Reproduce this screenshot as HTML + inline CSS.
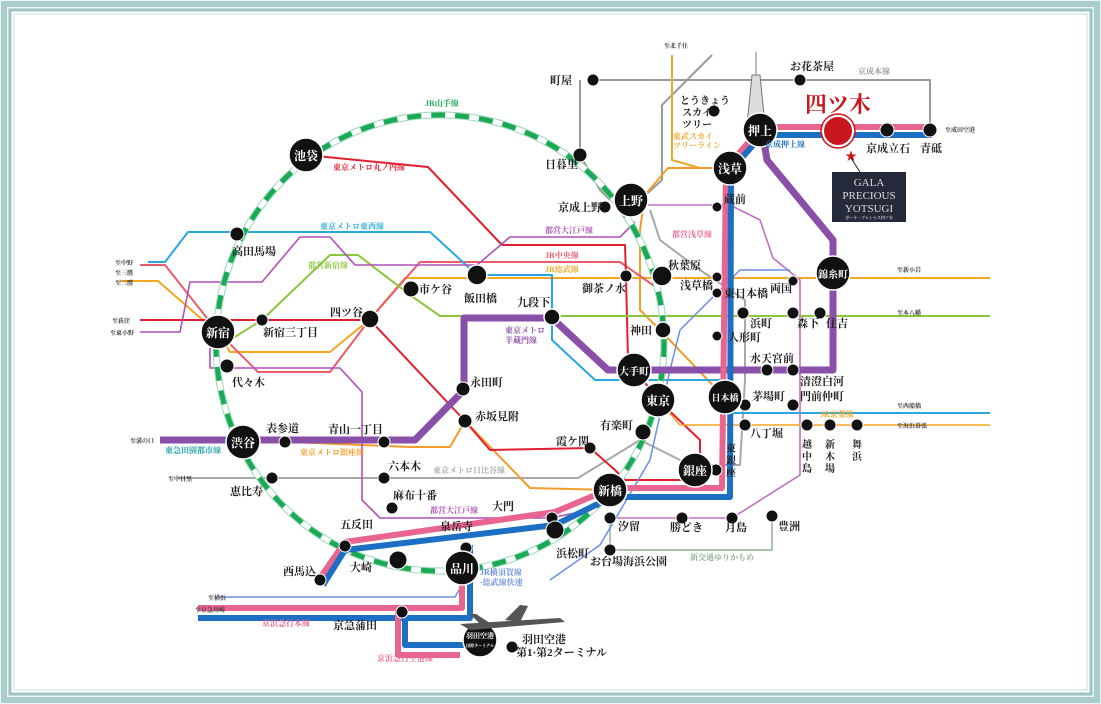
<!DOCTYPE html>
<html><head><meta charset="utf-8"><style>
html,body{margin:0;padding:0;background:#fff}
svg{display:block}
text{font-family:"Liberation Serif","Noto Serif CJK SC",serif;font-weight:bold}
.s{font-size:11px;fill:#222}
.t{font-size:6px;fill:#333}
.w{fill:#fff;font-size:12px;text-anchor:middle}
</style></head><body>
<svg width="1101" height="704" viewBox="0 0 1101 704" xmlns="http://www.w3.org/2000/svg">
<rect x="0" y="0" width="1101" height="704" fill="#eef4f4"/>
<rect x="4" y="4" width="1093" height="696" fill="none" stroke="#a9cccc" stroke-width="6"/>
<rect x="10" y="10" width="1081" height="684" fill="#fff" stroke="#9cc4c4" stroke-width="3"/>
<rect x="14" y="14" width="1073" height="676" fill="#fff" stroke="#c9dede" stroke-width="1"/>

<g fill="none" stroke-linejoin="round">
<!-- Keisei main grey -->
<polyline points="593,80 930,80 930,130" stroke="#9a9a9a" stroke-width="2"/>
<polyline points="580,80 580,155 600,190 610,200" stroke="#9a9a9a" stroke-width="2"/>
<polyline points="712,55 662,105 662,180 640,200" stroke="#9a9a9a" stroke-width="2"/>
<!-- Hibiya grey -->
<polyline points="178,478 380,478 578,478 640,440 690,465 740,465 745,380 745,300 700,270 660,240 650,210" stroke="#a8a8a8" stroke-width="2"/>
<!-- Tobu skytree orange -->
<polyline points="672,55 672,160 700,168" stroke="#f0a830" stroke-width="2"/>
<!-- Ginza orange -->
<polyline points="730,168 668,168 645,195 640,230 640,310 660,330 725,398" stroke="#f39c2a" stroke-width="2"/>
<polyline points="243,440 410,447 450,447 465,421" stroke="#f39c2a" stroke-width="2"/>
<polyline points="465,421 530,488 610,490 685,490 695,470" stroke="#f39c2a" stroke-width="2"/>
<!-- Sobu orange -->
<polyline points="120,281 158,281 205,322 218,332 230,352 330,352 370,319 405,278 990,278" stroke="#f5a623" stroke-width="2"/>
<!-- Chuo pink/red -->
<polyline points="140,265 165,265 218,332 258,372 330,372 370,319 420,262 620,262 660,290 665,330 658,400" stroke="#ec5b6a" stroke-width="2"/>
<!-- Marunouchi red -->
<polyline points="306,155 428,167 502,245 625,245 626,277 628,360 658,400 700,440 700,468 695,470" stroke="#e02030" stroke-width="2"/>
<polyline points="140,320 370,320 465,421 490,450 590,448 615,470 625,480 690,480" stroke="#e02030" stroke-width="2"/>
<!-- Tozai blue -->
<polyline points="148,262 165,262 188,232 250,232 430,232 477,275 552,275 552,340 595,380 720,380" stroke="#29a8e0" stroke-width="2"/>
<polyline points="720,413 990,413" stroke="#29a8e0" stroke-width="2"/>
<!-- Shinjuku line green -->
<polyline points="230,340 262,320 330,255 358,255 410,295 440,316 990,316" stroke="#8cc63f" stroke-width="2"/>
<!-- Oedo purple thin -->
<polyline points="140,332 180,332 190,282 262,282 300,237 330,237 355,265 477,265 510,237 620,237 635,222" stroke="#b050b8" stroke-width="1.6"/>
<polyline points="227,368 210,368 210,347 218,332" stroke="#b050b8" stroke-width="1.6"/>
<polyline points="227,368 340,368 362,392 362,500 380,518 550,518 590,510" stroke="#b050b8" stroke-width="1.6"/>
<polyline points="610,518 732,518 800,475 800,280 773,258 760,220 730,205 643,205" stroke="#c070c0" stroke-width="1.6"/>
<!-- Yurikamome -->
<polyline points="610,518 610,550 772,550 772,518" stroke="#8fb08f" stroke-width="1.5"/>
<!-- JR Yokosuka blue thin -->
<polyline points="790,270 740,270 680,330 670,370 650,460 600,545 550,580" stroke="#6b8ee0" stroke-width="1.5"/>
<polyline points="219,597 455,597 462,585" stroke="#6b8ee0" stroke-width="1.5"/>
<!-- Keiyo -->
<polyline points="658,400 680,425 990,425" stroke="#f5a623" stroke-width="1.5"/>

<!-- Yamanote -->
<ellipse cx="440" cy="343" rx="224" ry="228" stroke="#9ad8b8" stroke-width="7"/>
<ellipse cx="440" cy="343" rx="224" ry="228" stroke="#fff" stroke-width="5"/>
<ellipse cx="440" cy="343" rx="224" ry="228" stroke="#1aaa55" stroke-width="5" stroke-dasharray="14,10"/>

<!-- Hanzomon thick purple -->
<polyline points="160,440 243,440 415,440 464,390 464,318 552,318 608,370 833,370 833,240 767,160 762,130" stroke="#8a4fa8" stroke-width="7"/>
<!-- Asakusa pink/blue -->
<polyline points="925,127 762,127 733,160 726,170 722,488 612,488 555,512 345,542 320,578" stroke="#e8658f" stroke-width="6"/>
<polyline points="932,135 762,135 740,160 731,170 730,497 612,497 555,525 345,550 323,585" stroke="#1d6fc4" stroke-width="6"/>
<polyline points="466,545 462,560 462,608 198,608" stroke="#e8658f" stroke-width="6"/>
<polyline points="470,545 470,618 198,618" stroke="#1d6fc4" stroke-width="6"/>
<polyline points="398,608 398,655 460,655" stroke="#e8658f" stroke-width="6"/>
<polyline points="405,618 405,645 480,645" stroke="#1d6fc4" stroke-width="6"/>
</g>

<!-- Skytree -->
<g stroke="#777" fill="none" stroke-width="1">
<line x1="756" y1="52" x2="756" y2="75"/>
<polygon points="752,75 760,75 765,125 747,125" fill="#ddd"/>
</g>

<!-- small nodes -->
<g fill="#111" stroke="#fff" stroke-width="1">
<circle cx="593" cy="80" r="6"/><circle cx="800" cy="80" r="6"/><circle cx="580" cy="155" r="7"/><circle cx="605" cy="207" r="6"/>
<circle cx="714" cy="111" r="6"/><circle cx="887" cy="130" r="7"/><circle cx="930" cy="130" r="7"/>
<circle cx="237" cy="234" r="7"/><circle cx="262" cy="320" r="6"/><circle cx="227" cy="366" r="7"/><circle cx="411" cy="289" r="8"/>
<circle cx="626" cy="276" r="6"/><circle cx="717" cy="277" r="5"/><circle cx="717" cy="293" r="5"/><circle cx="717" cy="336" r="5"/>
<circle cx="717" cy="207" r="5"/><circle cx="793" cy="281" r="5"/><circle cx="743" cy="313" r="6"/><circle cx="793" cy="313" r="6"/><circle cx="820" cy="313" r="6"/>
<circle cx="767" cy="370" r="6"/><circle cx="793" cy="370" r="6"/><circle cx="745" cy="405" r="6"/><circle cx="793" cy="405" r="6"/>
<circle cx="745" cy="425" r="6"/><circle cx="807" cy="425" r="6"/><circle cx="830" cy="425" r="6"/><circle cx="857" cy="425" r="6"/>
<circle cx="463" cy="389" r="7"/><circle cx="465" cy="421" r="7"/><circle cx="643" cy="432" r="8"/><circle cx="590" cy="448" r="6"/>
<circle cx="716" cy="470" r="6"/><circle cx="285" cy="442" r="6"/><circle cx="384" cy="442" r="6"/><circle cx="384" cy="478" r="6"/>
<circle cx="272" cy="478" r="6"/><circle cx="392" cy="508" r="6"/><circle cx="552" cy="518" r="6"/><circle cx="610" cy="518" r="6"/>
<circle cx="682" cy="518" r="6"/><circle cx="732" cy="518" r="6"/><circle cx="772" cy="516" r="6"/><circle cx="610" cy="550" r="6"/>
<circle cx="345" cy="546" r="6"/><circle cx="466" cy="548" r="6"/><circle cx="320" cy="580" r="6"/><circle cx="398" cy="560" r="9"/>
<circle cx="555" cy="530" r="9"/><circle cx="402" cy="612" r="6"/><circle cx="512" cy="647" r="6"/>
</g>
<!-- big nodes -->
<g fill="#111" stroke="#fff" stroke-width="1.5">
<circle cx="306" cy="155" r="17"/><circle cx="218" cy="332" r="17"/><circle cx="243" cy="442" r="17"/><circle cx="462" cy="568" r="17"/>
<circle cx="631" cy="200" r="17"/><circle cx="760" cy="130" r="17"/><circle cx="730" cy="168" r="17"/><circle cx="833" cy="273" r="17"/>
<circle cx="634" cy="370" r="17"/><circle cx="658" cy="400" r="17"/><circle cx="725" cy="397" r="17"/><circle cx="695" cy="470" r="17"/>
<circle cx="610" cy="490" r="17"/><circle cx="477" cy="275" r="10"/><circle cx="552" cy="317" r="8"/><circle cx="662" cy="276" r="10"/>
<circle cx="663" cy="330" r="8"/><circle cx="370" cy="319" r="9"/><circle cx="480" cy="640" r="17"/>
</g>
<circle cx="838" cy="131" r="15" fill="#c8171e" stroke="#fff" stroke-width="2"/>
<circle cx="838" cy="131" r="17" fill="none" stroke="#c8171e" stroke-width="1.5"/>
<text x="838" y="112" style="font-size:22px;fill:#c8171e" text-anchor="middle">四ツ木</text>
<text x="851" y="160" style="font-size:12px;fill:#c8171e" text-anchor="middle">★</text>
<line x1="851" y1="158" x2="860" y2="172" stroke="#222"/>
<rect x="832" y="172" width="74" height="50" fill="#252a3a"/>
<text x="869" y="186" text-anchor="middle" style="fill:#ddd;font-size:11px;font-weight:normal">GALA</text>
<text x="869" y="199" text-anchor="middle" style="fill:#ddd;font-size:11px;font-weight:normal">PRECIOUS</text>
<text x="869" y="212" text-anchor="middle" style="fill:#ddd;font-size:11px;font-weight:normal">YOTSUGI</text>
<text x="869" y="219" text-anchor="middle" style="fill:#ccc;font-size:4px">ガーラ・プレシャス四ツ木</text>

<!-- station names in big circles -->
<g class="w">
<text x="306" y="160" class="w">池袋</text><text x="218" y="337" class="w">新宿</text><text x="243" y="447" class="w">渋谷</text>
<text x="462" y="573" class="w">品川</text><text x="631" y="205" class="w">上野</text><text x="760" y="135" class="w">押上</text>
<text x="730" y="173" class="w">浅草</text><text x="833" y="278" class="w" style="font-size:10px">錦糸町</text><text x="634" y="375" class="w" style="font-size:10px">大手町</text>
<text x="658" y="405" class="w">東京</text><text x="725" y="401" class="w" style="font-size:9px">日本橋</text><text x="695" y="475" class="w">銀座</text>
<text x="610" y="495" class="w">新橋</text><text x="480" y="638" class="w" style="font-size:7px">羽田空港</text><text x="480" y="647" class="w" style="font-size:4px">国際ターミナル</text>
</g>

<!-- labels -->
<g class="s">
<text x="550" y="84">町屋</text><text x="790" y="70">お花茶屋</text><text x="545" y="168">日暮里</text><text x="558" y="211">京成上野</text>
<text x="680" y="104" style="font-size:10px">とうきょう</text><text x="682" y="116" style="font-size:10px">スカイ</text><text x="682" y="128" style="font-size:10px">ツリー</text>
<text x="866" y="152">京成立石</text><text x="920" y="152">青砥</text>
<text x="232" y="255">高田馬場</text><text x="263" y="336">新宿三丁目</text><text x="232" y="386">代々木</text><text x="330" y="316">四ツ谷</text>
<text x="419" y="293">市ケ谷</text><text x="464" y="302">飯田橋</text><text x="517" y="306">九段下</text><text x="582" y="292">御茶ノ水</text>
<text x="668" y="269">秋葉原</text><text x="680" y="289">浅草橋</text><text x="724" y="297">東日本橋</text><text x="770" y="292">両国</text>
<text x="724" y="203">蔵前</text><text x="750" y="327">浜町</text><text x="797" y="327">森下</text><text x="826" y="327">住吉</text>
<text x="728" y="341">人形町</text><text x="630" y="334">神田</text><text x="750" y="362">水天宮前</text><text x="800" y="385">清澄白河</text>
<text x="752" y="400">茅場町</text><text x="800" y="400">門前仲町</text><text x="750" y="437">八丁堀</text>
<text x="470" y="386">永田町</text><text x="475" y="420">赤坂見附</text><text x="600" y="429">有楽町</text><text x="556" y="445">霞ケ関</text>
<text x="266" y="432">表参道</text><text x="328" y="433">青山一丁目</text><text x="388" y="470">六本木</text><text x="393" y="499">麻布十番</text>
<text x="230" y="495">恵比寿</text><text x="340" y="528">五反田</text><text x="440" y="530">泉岳寺</text><text x="492" y="510">大門</text>
<text x="283" y="575">西馬込</text><text x="350" y="571">大崎</text><text x="556" y="557">浜松町</text><text x="618" y="530">汐留</text>
<text x="670" y="531">勝どき</text><text x="725" y="531">月島</text><text x="778" y="530">豊洲</text><text x="590" y="565">お台場海浜公園</text>
<text x="333" y="629">京急蒲田</text><text x="522" y="643">羽田空港</text><text x="516" y="656">第1·第2ターミナル</text>
</g>
<g class="s" style="font-size:10px">
<text x="726" y="452">東</text><text x="726" y="464">銀</text><text x="726" y="476">座</text>
<text x="802" y="448">越</text><text x="802" y="460">中</text><text x="802" y="472">島</text>
<text x="825" y="448">新</text><text x="825" y="460">木</text><text x="825" y="472">場</text>
<text x="852" y="448">舞</text><text x="852" y="460">浜</text>
</g>
<!-- line names -->
<g style="font-size:8px">
<text x="425" y="106" fill="#1aaa55">JR山手線</text>
<text x="333" y="170" fill="#e02030">東京メトロ丸ノ内線</text>
<text x="320" y="229" fill="#29a8e0">東京メトロ東西線</text>
<text x="308" y="268" fill="#8cc63f">都営新宿線</text>
<text x="545" y="233" fill="#b050b8">都営大江戸線</text>
<text x="545" y="258" fill="#ec5b6a">JR中央線</text>
<text x="545" y="272" fill="#f5a623">JR総武線</text>
<text x="672" y="237" fill="#e8658f">都営浅草線</text>
<text x="673" y="139" fill="#f0a830">東武スカイ</text><text x="673" y="148" fill="#f0a830">ツリーライン</text>
<text x="765" y="147" fill="#1d6fc4">京成押上線</text>
<text x="858" y="74" fill="#999">京成本線</text>
<text x="505" y="333" fill="#8a4fa8">東京メトロ</text><text x="505" y="343" fill="#8a4fa8">半蔵門線</text>
<text x="165" y="453" fill="#1aa0a0">東急田園都市線</text>
<text x="300" y="455" fill="#f39c2a">東京メトロ銀座線</text>
<text x="433" y="473" fill="#aaa">東京メトロ日比谷線</text>
<text x="430" y="513" fill="#b050b8">都営大江戸線</text>
<text x="820" y="417" fill="#f5a623">JR京葉線</text>
<text x="690" y="560" fill="#8fb08f">新交通ゆりかもめ</text>
<text x="480" y="575" fill="#6b8ee0">JR横須賀線</text><text x="480" y="585" fill="#6b8ee0">·総武線快速</text>
<text x="262" y="626" fill="#e8658f">京浜急行本線</text>
<text x="377" y="661" fill="#e8658f">京浜急行空港線</text>
</g>
<g class="t">
<text x="664" y="48">至北千住</text><text x="945" y="132">至成田空港</text>
<text x="115" y="265">至中野</text><text x="115" y="275">至三鷹</text><text x="115" y="285">至三鷹</text>
<text x="112" y="323">至荻窪</text><text x="110" y="335">至東小野</text>
<text x="130" y="443">至溝の口</text><text x="168" y="481">至中目黒</text>
<text x="208" y="600">至横浜</text><text x="195" y="612">至京急川崎</text>
<text x="897" y="272">至新小岩</text><text x="897" y="315">至本八幡</text><text x="897" y="408">至西船橋</text><text x="897" y="428">至海浜幕張</text>
</g>
<!-- plane -->
<g fill="#555"><path d="M460,624 L560,618 L565,622 L470,630 Z"/><path d="M505,620 L520,605 L528,606 L520,622 Z"/><path d="M480,624 L470,614 L476,614 L490,623 Z"/></g>
</svg>
</body></html>
